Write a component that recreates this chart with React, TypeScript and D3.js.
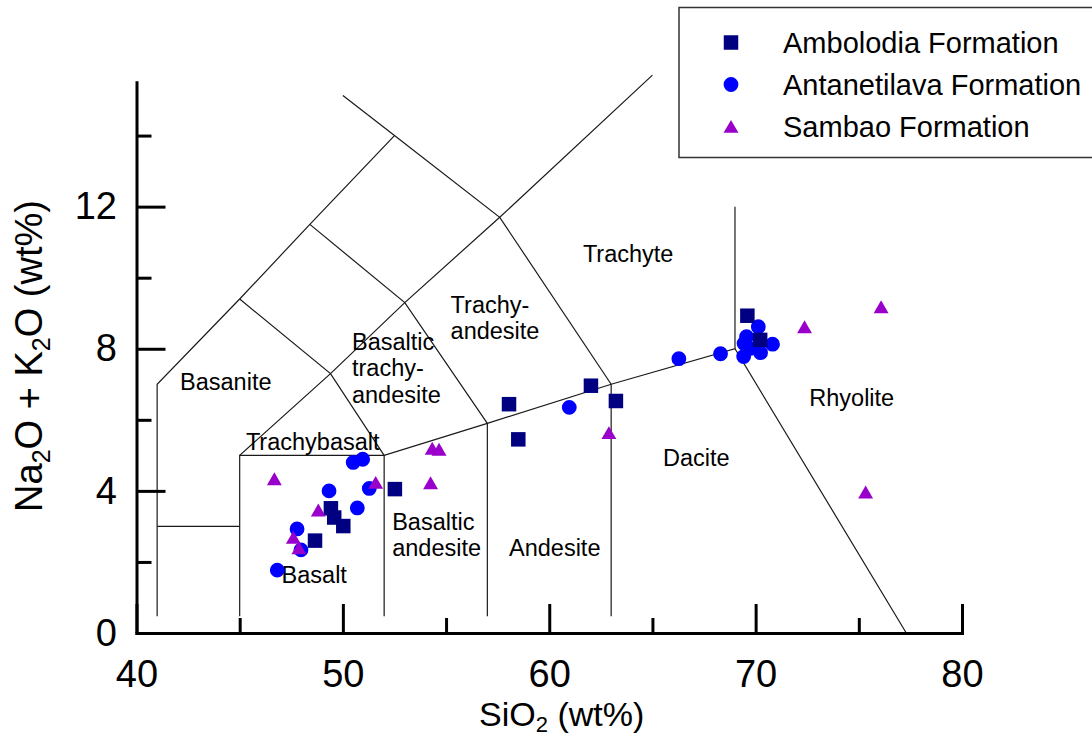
import React, { useEffect, useRef } from "react";
import * as d3 from "d3";

const WIDTH = 1092;
const HEIGHT = 738;
const FONT = "'Liberation Sans', Arial, Helvetica, sans-serif";

// Ambolodia Formation: SiO2 and total alkali (wt%)
const amboSiO2 = [69.6, 70.22, 58.05, 62.02, 63.23, 58.5, 52.52, 49.42, 49.58, 50.02, 48.65];
const amboAlk = [8.93, 8.25, 6.44, 6.96, 6.53, 5.45, 4.05, 3.51, 3.25, 3.01, 2.6];

// Antanetilava Formation
const antaSiO2 = [50.5, 50.96, 49.33, 51.28, 50.7, 47.78, 47.97, 46.82, 60.97, 66.28, 68.3, 70.13, 69.56, 69.44, 69.72, 70.82, 70.24, 69.42];
const antaAlk = [4.8, 4.89, 4.0, 4.07, 3.52, 2.93, 2.34, 1.77, 6.35, 7.72, 7.86, 8.62, 8.34, 8.15, 8.01, 8.13, 7.89, 7.78];

// Sambao Formation
const sambSiO2 = [46.68, 48.81, 51.59, 47.6, 47.87, 54.33, 54.66, 54.25, 62.89, 72.37, 76.08, 75.33];
const sambAlk = [4.28, 3.4, 4.18, 2.63, 2.34, 5.14, 5.11, 4.17, 5.58, 8.56, 9.12, 3.91];

const seriesNames = ["Ambolodia Formation", "Antanetilava Formation", "Sambao Formation"];

// Axis ticks
const xMajorTicks = [40, 50, 60, 70, 80];
const xMinorTicks = [45, 55, 65, 75];
const yMajorTicks = [0, 4, 8, 12];
const yMinorTicks = [2, 6, 10, 14];

// TAS field boundaries, [SiO2, Na2O+K2O]
const boundaries: [number, number][][] = [
  [[41, 0.47], [41, 7], [45, 9.4], [48.4, 11.5], [52.5, 14]],
  [[41, 3], [45, 3]],
  [[45, 0.47], [45, 5], [52, 5], [57, 5.9], [63, 7], [69, 8], [77.3, 0]],
  [[52, 0.47], [52, 5]],
  [[57, 0.47], [57, 5.9]],
  [[63, 0.47], [63, 7]],
  [[69, 8], [69, 12]],
  [[45, 5], [49.4, 7.3], [53, 9.3], [57.6, 11.7], [65, 15.7]],
  [[45, 9.4], [49.4, 7.3], [52, 5]],
  [[48.4, 11.5], [53, 9.3], [57, 5.9]],
  [[50, 15.13], [52.5, 14], [57.6, 11.7], [63, 7]],
];

// Rock-name labels: text lines and the [SiO2, alkali] of the first baseline
const fieldNames: string[][] = [
  ["Basanite"],
  ["Trachybasalt"],
  ["Basaltic", "trachy-", "andesite"],
  ["Trachy-", "andesite"],
  ["Trachyte"],
  ["Basaltic", "andesite"],
  ["Basalt"],
  ["Andesite"],
  ["Dacite"],
  ["Rhyolite"],
];
const fieldAnchors: [number, number][] = [
  [42.11, 6.84],
  [45.3, 5.15],
  [50.44, 7.97],
  [55.22, 9.01],
  [61.63, 10.44],
  [52.39, 2.9],
  [47.03, 1.4],
  [58.05, 2.17],
  [65.51, 4.7],
  [72.6, 6.39],
];

export default function App() {
  const ref = useRef<SVGSVGElement>(null);

  const x = d3.scaleLinear().domain([40, 80]).range([136.5, 962]);
  const y = d3.scaleLinear().domain([0, 15.5]).range([633, 633 - 15.5 * 35.53]);

  const line = d3
    .line<[number, number]>()
    .x((d) => x(d[0]))
    .y((d) => y(d[1]));

  const squarePath = d3.symbol().type(d3.symbolSquare).size(14.5 * 14.5)()!;
  const circlePath = d3.symbol().type(d3.symbolCircle).size(Math.PI * 7.4 * 7.4)()!;
  const trianglePath = d3.symbol().type(d3.symbolTriangle).size(96)()!;

  const series = [
    { name: seriesNames[0], xs: amboSiO2, ys: amboAlk, path: squarePath, color: "#000080" },
    { name: seriesNames[1], xs: antaSiO2, ys: antaAlk, path: circlePath, color: "#0000FF" },
    { name: seriesNames[2], xs: sambSiO2, ys: sambAlk, path: trianglePath, color: "#9900CC" },
  ];
  const drawOrder = [1, 0, 2];

  useEffect(() => {
    const svg = d3.select(ref.current);
    const style = (g: d3.Selection<SVGGElement, unknown, null, undefined>) => {
      g.selectAll("path.domain").attr("stroke-width", 3).attr("stroke-linecap", "square");
      g.selectAll(".tick line").attr("stroke-width", 3);
      g.selectAll("text").attr("font-family", FONT).attr("font-size", 38).attr("fill", "#000");
    };

    const gx = svg.select<SVGGElement>("g.x-major");
    gx.call(
      d3.axisBottom(x).tickValues(xMajorTicks).tickSizeInner(-29).tickSizeOuter(0).tickPadding(27).tickFormat(d3.format("d"))
    );
    gx.attr("font-size", null).attr("font-family", null);
    style(gx);

    const gxm = svg.select<SVGGElement>("g.x-minor");
    gxm.call(d3.axisBottom(x).tickValues(xMinorTicks).tickSizeInner(-15).tickSizeOuter(0).tickFormat(() => ""));
    gxm.select("path.domain").remove();
    style(gxm);

    const gy = svg.select<SVGGElement>("g.y-major");
    gy.call(
      d3.axisLeft(y).tickValues(yMajorTicks).tickSizeInner(-29).tickSizeOuter(0).tickPadding(19.5).tickFormat(d3.format("d"))
    );
    gy.attr("font-size", null).attr("font-family", null);
    style(gy);

    const gym = svg.select<SVGGElement>("g.y-minor");
    gym.call(d3.axisLeft(y).tickValues(yMinorTicks).tickSizeInner(-15).tickSizeOuter(0).tickFormat(() => ""));
    gym.select("path.domain").remove();
    style(gym);
  }, []);

  const legendRows = [42.5, 84.5, 126.5];

  return (
    <svg
      ref={ref}
      width={WIDTH}
      height={HEIGHT}
      style={{ position: "absolute", left: 0, top: 0, background: "#fff" }}
      fontFamily={FONT}
    >
      <rect x={0} y={0} width={WIDTH} height={HEIGHT} fill="#fff" />

      {/* field boundaries */}
      <g fill="none" stroke="#1a1a1a" strokeWidth={1.2}>
        {boundaries.map((b, i) => (
          <path key={i} d={line(b)!} />
        ))}
      </g>

      {/* field names */}
      <g fontSize={23.5} fill="#000">
        {fieldNames.map((lines, i) => (
          <text key={i} x={x(fieldAnchors[i][0])} y={y(fieldAnchors[i][1])}>
            {lines.map((t, j) => (
              <tspan key={j} x={x(fieldAnchors[i][0])} dy={j === 0 ? 0 : 26.5}>
                {t}
              </tspan>
            ))}
          </text>
        ))}
      </g>

      {/* samples */}
      {drawOrder.map((si) => {
        const s = series[si];
        return (
          <g key={s.name} fill={s.color}>
            {s.xs.map((v, i) => (
              <path key={i} d={s.path} transform={`translate(${x(v)},${y(s.ys[i])})`} />
            ))}
          </g>
        );
      })}

      {/* axes */}
      <g className="x-major" transform={`translate(0,${y(0)})`} />
      <g className="x-minor" transform={`translate(0,${y(0)})`} />
      <g className="y-major" transform={`translate(${x(40)},0)`} />
      <g className="y-minor" transform={`translate(${x(40)},0)`} />

      {/* axis titles */}
      <text x={479} y={726} fontSize={34} fill="#000">
        SiO<tspan fontSize={22} dy={6}>2</tspan>
        <tspan dy={-6}> (wt%)</tspan>
      </text>
      <text transform="translate(42,356) rotate(-90)" textAnchor="middle" fontSize={38} fill="#000">
        Na<tspan fontSize={25} dy={8}>2</tspan>
        <tspan dy={-8}>O + K</tspan>
        <tspan fontSize={25} dy={8}>2</tspan>
        <tspan dy={-8}>O (wt%)</tspan>
      </text>

      {/* legend */}
      <rect x={679} y={7.5} width={450} height={150} fill="#fff" stroke="#333" strokeWidth={1.5} />
      {series.map((s, i) => (
        <g key={s.name}>
          <path d={s.path} fill={s.color} transform={`translate(731,${legendRows[i] + (i === 2 ? 2 : 0)})`} />
          <text x={783} y={legendRows[i]} dy="0.35em" fontSize={29} fill="#000">
            {s.name}
          </text>
        </g>
      ))}
    </svg>
  );
}
